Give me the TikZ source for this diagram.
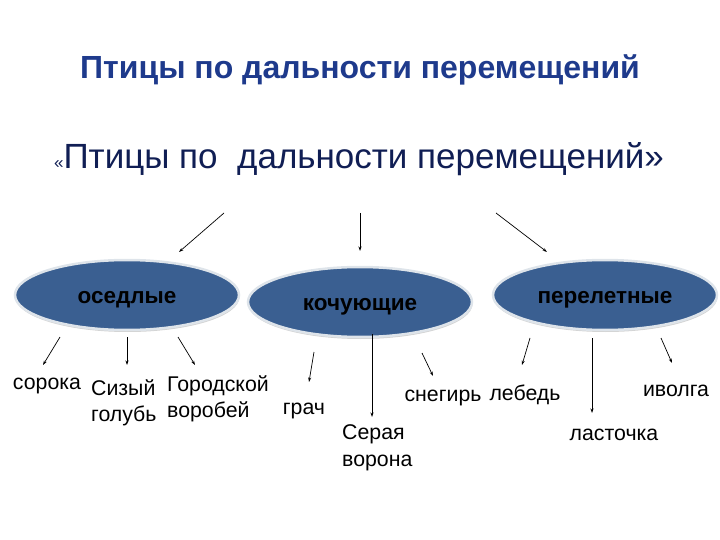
\documentclass[tikz,border=0pt]{standalone}
\usepackage{fontspec}
\setmainfont{Liberation Sans}
\usetikzlibrary{shapes.geometric,arrows.meta,shadows}
\definecolor{titleblue}{RGB}{30,58,140}
\definecolor{subnavy}{RGB}{16,30,84}
\definecolor{ellfill}{RGB}{58,95,145}
\definecolor{ellrim}{RGB}{222,228,234}
\begin{document}
\begin{tikzpicture}[x=1pt,y=-1pt,
  group/.style={ellipse,fill=ellfill,draw=ellrim,line width=2.5pt,
    minimum width=224pt,minimum height=70pt,inner sep=0pt,
    drop shadow={opacity=0.35,shadow xshift=0.5pt,shadow yshift=-2pt}},
  grouptext/.style={font=\fontsize{22.5}{26}\selectfont\bfseries,text=black,yshift=-4.5pt},
  bird/.style={font=\fontsize{21.3}{26.5}\selectfont,text=black,inner sep=0pt,align=left,yshift=-3pt},
  arr/.style={-{Stealth[length=4.5pt,width=3pt]},line width=0.7pt,black}]
\useasboundingbox (0,0) rectangle (720,540);
\node[font=\fontsize{32}{38}\selectfont\bfseries,text=titleblue] (title) at (360,70) {Птицы по дальности перемещений};
\node[font=\fontsize{35}{42}\selectfont,text=subnavy] (sub) at (359,159) {{\fontsize{17}{20}\selectfont«}Птицы по\ \ дальности перемещений»};
\node[group,label={[grouptext]center:оседлые}] (osed) at (127,295) {};
\node[group,label={[grouptext]center:кочующие}] (koch) at (360,302) {};
\node[group,label={[grouptext]center:перелетные}] (perel) at (605,295) {};
% top arrows
\coordinate (t1) at (224,213); \coordinate (e1) at (179,252);
\coordinate (t2) at (360,213); \coordinate (e2) at (360,251);
\coordinate (t3) at (496,213); \coordinate (e3) at (547,252);
\draw[arr] (t1) -- (e1);
\draw[arr] (t2) -- (e2);
\draw[arr] (t3) -- (e3);
% labels
\node[bird] (soroka) at (47,383) {сорока};
\node[bird,anchor=west] (golub) at (91,400) {Сизый\\голубь};
\node[bird,anchor=west] (vorob) at (167,396) {Городской\\воробей};
\node[bird] (grach) at (304,408) {грач};
\node[bird,anchor=west] (vorona) at (342,445) {Серая\\ворона};
\node[bird] (snegir) at (443,395) {снегирь};
\node[bird] (lebed) at (525,392) {лебедь};
\node[bird] (lastoch) at (614,432) {ласточка};
\node[bird] (ivolga) at (676,388) {иволга};
% bottom arrows
\coordinate (a1) at (60,337); \coordinate (b1) at (43,365);
\coordinate (a2) at (127,337); \coordinate (b2) at (127,365);
\coordinate (a3) at (178,337); \coordinate (b3) at (195,365);
\coordinate (a4) at (314,352); \coordinate (b4) at (309,382);
\coordinate (a5) at (372,334); \coordinate (b5) at (372,417);
\coordinate (a6) at (422,353); \coordinate (b6) at (433,376);
\coordinate (a7) at (530,338); \coordinate (b7) at (522,365);
\coordinate (a8) at (592,338); \coordinate (b8) at (592,413);
\coordinate (a9) at (661,338); \coordinate (b9) at (672,363);
\foreach \i in {1,...,9} \draw[arr] (a\i) -- (b\i);
\end{tikzpicture}
\end{document}
